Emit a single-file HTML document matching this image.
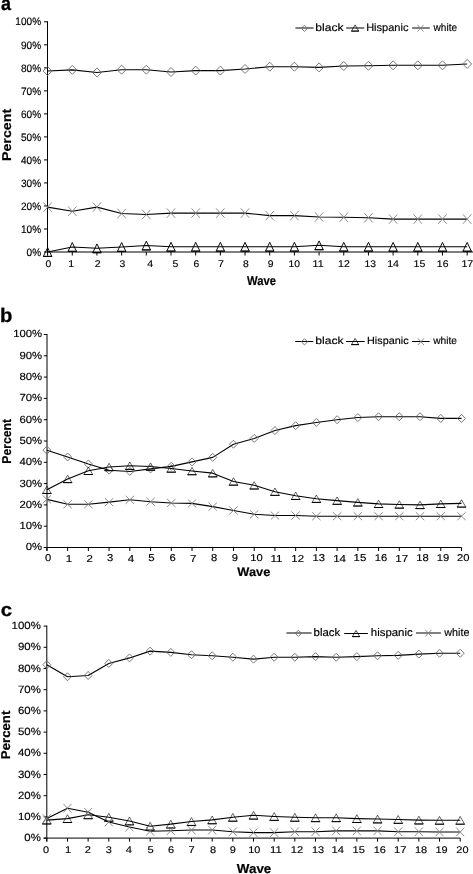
<!DOCTYPE html>
<html><head><meta charset="utf-8"><style>
html,body{margin:0;padding:0;background:#fff;}
body{width:473px;height:874px;overflow:hidden;}
svg{display:block;will-change:transform;}
text{stroke:#000;stroke-width:1.5px;text-rendering:geometricPrecision;font-family:"Liberation Sans",sans-serif;font-size:100px;}
</style></head><body>
<svg width="473" height="874" viewBox="0 0 473 874">
<rect width="473" height="874" fill="#fff"/>
<line x1="47.50" y1="21.30" x2="47.50" y2="255.50" stroke="#000" stroke-width="1"/>
<line x1="44.00" y1="252.00" x2="47.50" y2="252.00" stroke="#000" stroke-width="1"/>
<line x1="44.00" y1="228.98" x2="47.50" y2="228.98" stroke="#000" stroke-width="1"/>
<line x1="44.00" y1="205.96" x2="47.50" y2="205.96" stroke="#000" stroke-width="1"/>
<line x1="44.00" y1="182.94" x2="47.50" y2="182.94" stroke="#000" stroke-width="1"/>
<line x1="44.00" y1="159.92" x2="47.50" y2="159.92" stroke="#000" stroke-width="1"/>
<line x1="44.00" y1="136.90" x2="47.50" y2="136.90" stroke="#000" stroke-width="1"/>
<line x1="44.00" y1="113.88" x2="47.50" y2="113.88" stroke="#000" stroke-width="1"/>
<line x1="44.00" y1="90.86" x2="47.50" y2="90.86" stroke="#000" stroke-width="1"/>
<line x1="44.00" y1="67.84" x2="47.50" y2="67.84" stroke="#000" stroke-width="1"/>
<line x1="44.00" y1="44.82" x2="47.50" y2="44.82" stroke="#000" stroke-width="1"/>
<line x1="44.00" y1="21.80" x2="47.50" y2="21.80" stroke="#000" stroke-width="1"/>
<line x1="47.50" y1="252.00" x2="473.00" y2="252.00" stroke="#000" stroke-width="1"/>
<line x1="47.60" y1="252.00" x2="47.60" y2="255.50" stroke="#000" stroke-width="1"/>
<line x1="72.28" y1="252.00" x2="72.28" y2="255.50" stroke="#000" stroke-width="1"/>
<line x1="96.96" y1="252.00" x2="96.96" y2="255.50" stroke="#000" stroke-width="1"/>
<line x1="121.64" y1="252.00" x2="121.64" y2="255.50" stroke="#000" stroke-width="1"/>
<line x1="146.32" y1="252.00" x2="146.32" y2="255.50" stroke="#000" stroke-width="1"/>
<line x1="171.00" y1="252.00" x2="171.00" y2="255.50" stroke="#000" stroke-width="1"/>
<line x1="195.68" y1="252.00" x2="195.68" y2="255.50" stroke="#000" stroke-width="1"/>
<line x1="220.36" y1="252.00" x2="220.36" y2="255.50" stroke="#000" stroke-width="1"/>
<line x1="245.04" y1="252.00" x2="245.04" y2="255.50" stroke="#000" stroke-width="1"/>
<line x1="269.72" y1="252.00" x2="269.72" y2="255.50" stroke="#000" stroke-width="1"/>
<line x1="294.40" y1="252.00" x2="294.40" y2="255.50" stroke="#000" stroke-width="1"/>
<line x1="319.08" y1="252.00" x2="319.08" y2="255.50" stroke="#000" stroke-width="1"/>
<line x1="343.76" y1="252.00" x2="343.76" y2="255.50" stroke="#000" stroke-width="1"/>
<line x1="368.44" y1="252.00" x2="368.44" y2="255.50" stroke="#000" stroke-width="1"/>
<line x1="393.12" y1="252.00" x2="393.12" y2="255.50" stroke="#000" stroke-width="1"/>
<line x1="417.80" y1="252.00" x2="417.80" y2="255.50" stroke="#000" stroke-width="1"/>
<line x1="442.48" y1="252.00" x2="442.48" y2="255.50" stroke="#000" stroke-width="1"/>
<line x1="467.16" y1="252.00" x2="467.16" y2="255.50" stroke="#000" stroke-width="1"/>
<text transform="matrix(0.10090,0,0,0.10734,26.573,255.693)" font-weight="normal">0%</text>
<text transform="matrix(0.10090,0,0,0.10734,20.962,232.673)" font-weight="normal">10%</text>
<text transform="matrix(0.10090,0,0,0.10734,20.962,209.653)" font-weight="normal">20%</text>
<text transform="matrix(0.10090,0,0,0.10734,20.962,186.633)" font-weight="normal">30%</text>
<text transform="matrix(0.10090,0,0,0.10734,20.962,163.613)" font-weight="normal">40%</text>
<text transform="matrix(0.10090,0,0,0.10734,20.962,140.593)" font-weight="normal">50%</text>
<text transform="matrix(0.10090,0,0,0.10734,20.962,117.573)" font-weight="normal">60%</text>
<text transform="matrix(0.10090,0,0,0.10734,20.962,94.553)" font-weight="normal">70%</text>
<text transform="matrix(0.10090,0,0,0.10734,20.962,71.533)" font-weight="normal">80%</text>
<text transform="matrix(0.10090,0,0,0.10734,20.962,48.513)" font-weight="normal">90%</text>
<text transform="matrix(0.10090,0,0,0.10734,15.352,25.493)" font-weight="normal">100%</text>
<text transform="matrix(0.10373,0,0,0.09605,45.466,267.204)" font-weight="normal">0</text>
<text transform="matrix(0.10674,0,0,0.09884,68.288,267.300)" font-weight="normal">1</text>
<text transform="matrix(0.10521,0,0,0.09742,94.775,267.300)" font-weight="normal">2</text>
<text transform="matrix(0.10373,0,0,0.09605,119.547,267.204)" font-weight="normal">3</text>
<text transform="matrix(0.10674,0,0,0.09884,147.265,267.300)" font-weight="normal">4</text>
<text transform="matrix(0.10521,0,0,0.09742,172.386,267.203)" font-weight="normal">5</text>
<text transform="matrix(0.10373,0,0,0.09605,193.530,267.204)" font-weight="normal">6</text>
<text transform="matrix(0.10674,0,0,0.09884,217.977,267.300)" font-weight="normal">7</text>
<text transform="matrix(0.10373,0,0,0.09605,243.066,267.204)" font-weight="normal">8</text>
<text transform="matrix(0.10373,0,0,0.09605,267.816,267.204)" font-weight="normal">9</text>
<text transform="matrix(0.10373,0,0,0.09605,288.591,267.204)" font-weight="normal">10</text>
<text transform="matrix(0.10674,0,0,0.09884,312.616,267.300)" font-weight="normal">11</text>
<text transform="matrix(0.10521,0,0,0.09742,338.063,267.300)" font-weight="normal">12</text>
<text transform="matrix(0.10373,0,0,0.09605,364.567,267.204)" font-weight="normal">13</text>
<text transform="matrix(0.10674,0,0,0.09884,387.164,267.300)" font-weight="normal">14</text>
<text transform="matrix(0.10521,0,0,0.09742,413.571,267.203)" font-weight="normal">15</text>
<text transform="matrix(0.10373,0,0,0.09605,436.867,267.204)" font-weight="normal">16</text>
<text transform="matrix(0.10674,0,0,0.09884,461.426,267.300)" font-weight="normal">17</text>
<polyline points="47.60,71.06 72.28,69.91 96.96,72.44 121.64,69.68 146.32,69.68 171.00,71.98 195.68,70.60 220.36,70.60 245.04,68.99 269.72,66.69 294.40,66.69 319.08,67.38 343.76,66.00 368.44,65.77 393.12,65.31 417.80,65.31 442.48,65.31 467.16,63.93" fill="none" stroke="#000" stroke-width="1.1" stroke-linejoin="round"/>
<polyline points="47.60,252.00 72.28,246.94 96.96,248.32 121.64,246.94 146.32,245.55 171.00,246.71 195.68,246.71 220.36,246.71 245.04,246.71 269.72,246.71 294.40,246.71 319.08,245.32 343.76,246.71 368.44,246.71 393.12,246.82 417.80,246.82 442.48,246.82 467.16,246.82" fill="none" stroke="#000" stroke-width="1.1" stroke-linejoin="round"/>
<polyline points="47.60,207.11 72.28,211.25 96.96,207.11 121.64,213.56 146.32,214.48 171.00,213.10 195.68,213.10 220.36,213.10 245.04,213.10 269.72,215.63 294.40,215.63 319.08,217.01 343.76,217.24 368.44,217.70 393.12,219.08 417.80,219.08 442.48,219.08 467.16,219.08" fill="none" stroke="#000" stroke-width="1.1" stroke-linejoin="round"/>
<path d="M47.60,66.56L52.10,71.06L47.60,75.56L43.10,71.06Z" fill="none" stroke="#6a6a6a" stroke-width="0.9"/>
<path d="M72.28,65.41L76.78,69.91L72.28,74.41L67.78,69.91Z" fill="none" stroke="#6a6a6a" stroke-width="0.9"/>
<path d="M96.96,67.94L101.46,72.44L96.96,76.94L92.46,72.44Z" fill="none" stroke="#6a6a6a" stroke-width="0.9"/>
<path d="M121.64,65.18L126.14,69.68L121.64,74.18L117.14,69.68Z" fill="none" stroke="#6a6a6a" stroke-width="0.9"/>
<path d="M146.32,65.18L150.82,69.68L146.32,74.18L141.82,69.68Z" fill="none" stroke="#6a6a6a" stroke-width="0.9"/>
<path d="M171.00,67.48L175.50,71.98L171.00,76.48L166.50,71.98Z" fill="none" stroke="#6a6a6a" stroke-width="0.9"/>
<path d="M195.68,66.10L200.18,70.60L195.68,75.10L191.18,70.60Z" fill="none" stroke="#6a6a6a" stroke-width="0.9"/>
<path d="M220.36,66.10L224.86,70.60L220.36,75.10L215.86,70.60Z" fill="none" stroke="#6a6a6a" stroke-width="0.9"/>
<path d="M245.04,64.49L249.54,68.99L245.04,73.49L240.54,68.99Z" fill="none" stroke="#6a6a6a" stroke-width="0.9"/>
<path d="M269.72,62.19L274.22,66.69L269.72,71.19L265.22,66.69Z" fill="none" stroke="#6a6a6a" stroke-width="0.9"/>
<path d="M294.40,62.19L298.90,66.69L294.40,71.19L289.90,66.69Z" fill="none" stroke="#6a6a6a" stroke-width="0.9"/>
<path d="M319.08,62.88L323.58,67.38L319.08,71.88L314.58,67.38Z" fill="none" stroke="#6a6a6a" stroke-width="0.9"/>
<path d="M343.76,61.50L348.26,66.00L343.76,70.50L339.26,66.00Z" fill="none" stroke="#6a6a6a" stroke-width="0.9"/>
<path d="M368.44,61.27L372.94,65.77L368.44,70.27L363.94,65.77Z" fill="none" stroke="#6a6a6a" stroke-width="0.9"/>
<path d="M393.12,60.81L397.62,65.31L393.12,69.81L388.62,65.31Z" fill="none" stroke="#6a6a6a" stroke-width="0.9"/>
<path d="M417.80,60.81L422.30,65.31L417.80,69.81L413.30,65.31Z" fill="none" stroke="#6a6a6a" stroke-width="0.9"/>
<path d="M442.48,60.81L446.98,65.31L442.48,69.81L437.98,65.31Z" fill="none" stroke="#6a6a6a" stroke-width="0.9"/>
<path d="M467.16,59.43L471.66,63.93L467.16,68.43L462.66,63.93Z" fill="none" stroke="#6a6a6a" stroke-width="0.9"/>
<path d="M47.60,247.60L51.80,256.40L43.40,256.40Z" fill="none" stroke="#000" stroke-width="0.95" stroke-linejoin="miter"/>
<path d="M43.10,256.40H52.10" stroke="#000" stroke-width="1.0"/>
<path d="M72.28,242.54L76.48,251.34L68.08,251.34Z" fill="none" stroke="#000" stroke-width="0.95" stroke-linejoin="miter"/>
<path d="M67.78,251.34H76.78" stroke="#000" stroke-width="1.0"/>
<path d="M96.96,243.92L101.16,252.72L92.76,252.72Z" fill="none" stroke="#000" stroke-width="0.95" stroke-linejoin="miter"/>
<path d="M92.46,252.72H101.46" stroke="#000" stroke-width="1.0"/>
<path d="M121.64,242.54L125.84,251.34L117.44,251.34Z" fill="none" stroke="#000" stroke-width="0.95" stroke-linejoin="miter"/>
<path d="M117.14,251.34H126.14" stroke="#000" stroke-width="1.0"/>
<path d="M146.32,241.15L150.52,249.95L142.12,249.95Z" fill="none" stroke="#000" stroke-width="0.95" stroke-linejoin="miter"/>
<path d="M141.82,249.95H150.82" stroke="#000" stroke-width="1.0"/>
<path d="M171.00,242.31L175.20,251.11L166.80,251.11Z" fill="none" stroke="#000" stroke-width="0.95" stroke-linejoin="miter"/>
<path d="M166.50,251.11H175.50" stroke="#000" stroke-width="1.0"/>
<path d="M195.68,242.31L199.88,251.11L191.48,251.11Z" fill="none" stroke="#000" stroke-width="0.95" stroke-linejoin="miter"/>
<path d="M191.18,251.11H200.18" stroke="#000" stroke-width="1.0"/>
<path d="M220.36,242.31L224.56,251.11L216.16,251.11Z" fill="none" stroke="#000" stroke-width="0.95" stroke-linejoin="miter"/>
<path d="M215.86,251.11H224.86" stroke="#000" stroke-width="1.0"/>
<path d="M245.04,242.31L249.24,251.11L240.84,251.11Z" fill="none" stroke="#000" stroke-width="0.95" stroke-linejoin="miter"/>
<path d="M240.54,251.11H249.54" stroke="#000" stroke-width="1.0"/>
<path d="M269.72,242.31L273.92,251.11L265.52,251.11Z" fill="none" stroke="#000" stroke-width="0.95" stroke-linejoin="miter"/>
<path d="M265.22,251.11H274.22" stroke="#000" stroke-width="1.0"/>
<path d="M294.40,242.31L298.60,251.11L290.20,251.11Z" fill="none" stroke="#000" stroke-width="0.95" stroke-linejoin="miter"/>
<path d="M289.90,251.11H298.90" stroke="#000" stroke-width="1.0"/>
<path d="M319.08,240.92L323.28,249.72L314.88,249.72Z" fill="none" stroke="#000" stroke-width="0.95" stroke-linejoin="miter"/>
<path d="M314.58,249.72H323.58" stroke="#000" stroke-width="1.0"/>
<path d="M343.76,242.31L347.96,251.11L339.56,251.11Z" fill="none" stroke="#000" stroke-width="0.95" stroke-linejoin="miter"/>
<path d="M339.26,251.11H348.26" stroke="#000" stroke-width="1.0"/>
<path d="M368.44,242.31L372.64,251.11L364.24,251.11Z" fill="none" stroke="#000" stroke-width="0.95" stroke-linejoin="miter"/>
<path d="M363.94,251.11H372.94" stroke="#000" stroke-width="1.0"/>
<path d="M393.12,242.42L397.32,251.22L388.92,251.22Z" fill="none" stroke="#000" stroke-width="0.95" stroke-linejoin="miter"/>
<path d="M388.62,251.22H397.62" stroke="#000" stroke-width="1.0"/>
<path d="M417.80,242.42L422.00,251.22L413.60,251.22Z" fill="none" stroke="#000" stroke-width="0.95" stroke-linejoin="miter"/>
<path d="M413.30,251.22H422.30" stroke="#000" stroke-width="1.0"/>
<path d="M442.48,242.42L446.68,251.22L438.28,251.22Z" fill="none" stroke="#000" stroke-width="0.95" stroke-linejoin="miter"/>
<path d="M437.98,251.22H446.98" stroke="#000" stroke-width="1.0"/>
<path d="M467.16,242.42L471.36,251.22L462.96,251.22Z" fill="none" stroke="#000" stroke-width="0.95" stroke-linejoin="miter"/>
<path d="M462.66,251.22H471.66" stroke="#000" stroke-width="1.0"/>
<path d="M43.40,202.41L51.80,211.81M51.80,202.41L43.40,211.81" fill="none" stroke="#808080" stroke-width="0.9"/>
<path d="M68.08,206.55L76.48,215.95M76.48,206.55L68.08,215.95" fill="none" stroke="#808080" stroke-width="0.9"/>
<path d="M92.76,202.41L101.16,211.81M101.16,202.41L92.76,211.81" fill="none" stroke="#808080" stroke-width="0.9"/>
<path d="M117.44,208.86L125.84,218.26M125.84,208.86L117.44,218.26" fill="none" stroke="#808080" stroke-width="0.9"/>
<path d="M142.12,209.78L150.52,219.18M150.52,209.78L142.12,219.18" fill="none" stroke="#808080" stroke-width="0.9"/>
<path d="M166.80,208.40L175.20,217.80M175.20,208.40L166.80,217.80" fill="none" stroke="#808080" stroke-width="0.9"/>
<path d="M191.48,208.40L199.88,217.80M199.88,208.40L191.48,217.80" fill="none" stroke="#808080" stroke-width="0.9"/>
<path d="M216.16,208.40L224.56,217.80M224.56,208.40L216.16,217.80" fill="none" stroke="#808080" stroke-width="0.9"/>
<path d="M240.84,208.40L249.24,217.80M249.24,208.40L240.84,217.80" fill="none" stroke="#808080" stroke-width="0.9"/>
<path d="M265.52,210.93L273.92,220.33M273.92,210.93L265.52,220.33" fill="none" stroke="#808080" stroke-width="0.9"/>
<path d="M290.20,210.93L298.60,220.33M298.60,210.93L290.20,220.33" fill="none" stroke="#808080" stroke-width="0.9"/>
<path d="M314.88,212.31L323.28,221.71M323.28,212.31L314.88,221.71" fill="none" stroke="#808080" stroke-width="0.9"/>
<path d="M339.56,212.54L347.96,221.94M347.96,212.54L339.56,221.94" fill="none" stroke="#808080" stroke-width="0.9"/>
<path d="M364.24,213.00L372.64,222.40M372.64,213.00L364.24,222.40" fill="none" stroke="#808080" stroke-width="0.9"/>
<path d="M388.92,214.38L397.32,223.78M397.32,214.38L388.92,223.78" fill="none" stroke="#808080" stroke-width="0.9"/>
<path d="M413.60,214.38L422.00,223.78M422.00,214.38L413.60,223.78" fill="none" stroke="#808080" stroke-width="0.9"/>
<path d="M438.28,214.38L446.68,223.78M446.68,214.38L438.28,223.78" fill="none" stroke="#808080" stroke-width="0.9"/>
<path d="M462.96,214.38L471.36,223.78M471.36,214.38L462.96,223.78" fill="none" stroke="#808080" stroke-width="0.9"/>
<line x1="47.00" y1="334.00" x2="47.00" y2="551.00" stroke="#000" stroke-width="1"/>
<line x1="43.80" y1="547.50" x2="47.00" y2="547.50" stroke="#000" stroke-width="1"/>
<line x1="43.80" y1="526.20" x2="47.00" y2="526.20" stroke="#000" stroke-width="1"/>
<line x1="43.80" y1="504.90" x2="47.00" y2="504.90" stroke="#000" stroke-width="1"/>
<line x1="43.80" y1="483.60" x2="47.00" y2="483.60" stroke="#000" stroke-width="1"/>
<line x1="43.80" y1="462.30" x2="47.00" y2="462.30" stroke="#000" stroke-width="1"/>
<line x1="43.80" y1="441.00" x2="47.00" y2="441.00" stroke="#000" stroke-width="1"/>
<line x1="43.80" y1="419.70" x2="47.00" y2="419.70" stroke="#000" stroke-width="1"/>
<line x1="43.80" y1="398.40" x2="47.00" y2="398.40" stroke="#000" stroke-width="1"/>
<line x1="43.80" y1="377.10" x2="47.00" y2="377.10" stroke="#000" stroke-width="1"/>
<line x1="43.80" y1="355.80" x2="47.00" y2="355.80" stroke="#000" stroke-width="1"/>
<line x1="43.80" y1="334.50" x2="47.00" y2="334.50" stroke="#000" stroke-width="1"/>
<line x1="43.80" y1="547.50" x2="461.60" y2="547.50" stroke="#000" stroke-width="1"/>
<line x1="46.90" y1="547.50" x2="46.90" y2="551.00" stroke="#000" stroke-width="1"/>
<line x1="67.63" y1="547.50" x2="67.63" y2="551.00" stroke="#000" stroke-width="1"/>
<line x1="88.36" y1="547.50" x2="88.36" y2="551.00" stroke="#000" stroke-width="1"/>
<line x1="109.09" y1="547.50" x2="109.09" y2="551.00" stroke="#000" stroke-width="1"/>
<line x1="129.82" y1="547.50" x2="129.82" y2="551.00" stroke="#000" stroke-width="1"/>
<line x1="150.55" y1="547.50" x2="150.55" y2="551.00" stroke="#000" stroke-width="1"/>
<line x1="171.28" y1="547.50" x2="171.28" y2="551.00" stroke="#000" stroke-width="1"/>
<line x1="192.01" y1="547.50" x2="192.01" y2="551.00" stroke="#000" stroke-width="1"/>
<line x1="212.74" y1="547.50" x2="212.74" y2="551.00" stroke="#000" stroke-width="1"/>
<line x1="233.47" y1="547.50" x2="233.47" y2="551.00" stroke="#000" stroke-width="1"/>
<line x1="254.20" y1="547.50" x2="254.20" y2="551.00" stroke="#000" stroke-width="1"/>
<line x1="274.93" y1="547.50" x2="274.93" y2="551.00" stroke="#000" stroke-width="1"/>
<line x1="295.66" y1="547.50" x2="295.66" y2="551.00" stroke="#000" stroke-width="1"/>
<line x1="316.39" y1="547.50" x2="316.39" y2="551.00" stroke="#000" stroke-width="1"/>
<line x1="337.12" y1="547.50" x2="337.12" y2="551.00" stroke="#000" stroke-width="1"/>
<line x1="357.85" y1="547.50" x2="357.85" y2="551.00" stroke="#000" stroke-width="1"/>
<line x1="378.58" y1="547.50" x2="378.58" y2="551.00" stroke="#000" stroke-width="1"/>
<line x1="399.31" y1="547.50" x2="399.31" y2="551.00" stroke="#000" stroke-width="1"/>
<line x1="420.04" y1="547.50" x2="420.04" y2="551.00" stroke="#000" stroke-width="1"/>
<line x1="440.77" y1="547.50" x2="440.77" y2="551.00" stroke="#000" stroke-width="1"/>
<line x1="461.50" y1="547.50" x2="461.50" y2="551.00" stroke="#000" stroke-width="1"/>
<text transform="matrix(0.11342,0,0,0.10311,25.758,550.447)" font-weight="normal">0%</text>
<text transform="matrix(0.11342,0,0,0.10311,19.452,529.147)" font-weight="normal">10%</text>
<text transform="matrix(0.11342,0,0,0.10311,19.452,507.847)" font-weight="normal">20%</text>
<text transform="matrix(0.11342,0,0,0.10311,19.452,486.547)" font-weight="normal">30%</text>
<text transform="matrix(0.11342,0,0,0.10311,19.452,465.247)" font-weight="normal">40%</text>
<text transform="matrix(0.11342,0,0,0.10311,19.452,443.947)" font-weight="normal">50%</text>
<text transform="matrix(0.11342,0,0,0.10311,19.452,422.647)" font-weight="normal">60%</text>
<text transform="matrix(0.11342,0,0,0.10311,19.452,401.347)" font-weight="normal">70%</text>
<text transform="matrix(0.11342,0,0,0.10311,19.452,380.047)" font-weight="normal">80%</text>
<text transform="matrix(0.11342,0,0,0.10311,19.452,358.747)" font-weight="normal">90%</text>
<text transform="matrix(0.11342,0,0,0.10311,13.146,337.447)" font-weight="normal">100%</text>
<text transform="matrix(0.11271,0,0,0.09887,45.017,561.401)" font-weight="normal">0</text>
<text transform="matrix(0.11599,0,0,0.10174,65.669,561.500)" font-weight="normal">1</text>
<text transform="matrix(0.11433,0,0,0.10029,86.472,561.500)" font-weight="normal">2</text>
<text transform="matrix(0.11271,0,0,0.09887,106.950,561.401)" font-weight="normal">3</text>
<text transform="matrix(0.11599,0,0,0.10174,127.660,561.500)" font-weight="normal">4</text>
<text transform="matrix(0.11433,0,0,0.10029,148.233,561.400)" font-weight="normal">5</text>
<text transform="matrix(0.11271,0,0,0.09887,169.427,561.401)" font-weight="normal">6</text>
<text transform="matrix(0.11599,0,0,0.10174,190.120,561.500)" font-weight="normal">7</text>
<text transform="matrix(0.11271,0,0,0.09887,211.067,561.401)" font-weight="normal">8</text>
<text transform="matrix(0.11271,0,0,0.09887,231.817,561.401)" font-weight="normal">9</text>
<text transform="matrix(0.11271,0,0,0.09887,250.325,561.401)" font-weight="normal">10</text>
<text transform="matrix(0.11599,0,0,0.10174,270.524,561.500)" font-weight="normal">11</text>
<text transform="matrix(0.11433,0,0,0.10029,291.345,561.500)" font-weight="normal">12</text>
<text transform="matrix(0.11271,0,0,0.09887,312.553,561.401)" font-weight="normal">13</text>
<text transform="matrix(0.11599,0,0,0.10174,333.128,561.500)" font-weight="normal">14</text>
<text transform="matrix(0.11433,0,0,0.10029,353.549,561.400)" font-weight="normal">15</text>
<text transform="matrix(0.11271,0,0,0.09887,374.853,561.401)" font-weight="normal">16</text>
<text transform="matrix(0.11599,0,0,0.10174,395.300,561.500)" font-weight="normal">17</text>
<text transform="matrix(0.11271,0,0,0.09887,416.347,561.401)" font-weight="normal">18</text>
<text transform="matrix(0.11271,0,0,0.09887,436.670,561.401)" font-weight="normal">19</text>
<text transform="matrix(0.11271,0,0,0.09887,456.921,561.401)" font-weight="normal">20</text>
<polyline points="46.90,450.16 67.63,456.98 88.36,464.00 109.09,470.18 129.82,471.46 150.55,468.90 171.28,466.35 192.01,461.87 212.74,457.40 233.47,444.19 254.20,438.44 274.93,430.56 295.66,425.66 316.39,422.47 337.12,419.70 357.85,417.57 378.58,416.72 399.31,416.72 420.04,416.72 440.77,418.42 461.50,418.42" fill="none" stroke="#000" stroke-width="1.1" stroke-linejoin="round"/>
<polyline points="46.90,489.78 67.63,478.91 88.36,470.82 109.09,466.99 129.82,465.71 150.55,466.56 171.28,468.48 192.01,471.03 212.74,473.16 233.47,481.47 254.20,485.30 274.93,491.69 295.66,495.74 316.39,498.72 337.12,500.64 357.85,502.34 378.58,503.83 399.31,504.47 420.04,504.90 440.77,503.83 461.50,503.41" fill="none" stroke="#000" stroke-width="1.1" stroke-linejoin="round"/>
<polyline points="46.90,499.36 67.63,504.26 88.36,504.26 109.09,502.13 129.82,499.79 150.55,501.70 171.28,502.98 192.01,503.41 212.74,506.60 233.47,510.44 254.20,514.27 274.93,515.55 295.66,515.55 316.39,516.19 337.12,516.19 357.85,516.19 378.58,516.19 399.31,516.19 420.04,516.19 440.77,516.19 461.50,516.19" fill="none" stroke="#000" stroke-width="1.1" stroke-linejoin="round"/>
<path d="M46.90,446.16L50.90,450.16L46.90,454.16L42.90,450.16Z" fill="none" stroke="#6a6a6a" stroke-width="0.9"/>
<path d="M67.63,452.98L71.63,456.98L67.63,460.98L63.63,456.98Z" fill="none" stroke="#6a6a6a" stroke-width="0.9"/>
<path d="M88.36,460.00L92.36,464.00L88.36,468.00L84.36,464.00Z" fill="none" stroke="#6a6a6a" stroke-width="0.9"/>
<path d="M109.09,466.18L113.09,470.18L109.09,474.18L105.09,470.18Z" fill="none" stroke="#6a6a6a" stroke-width="0.9"/>
<path d="M129.82,467.46L133.82,471.46L129.82,475.46L125.82,471.46Z" fill="none" stroke="#6a6a6a" stroke-width="0.9"/>
<path d="M150.55,464.90L154.55,468.90L150.55,472.90L146.55,468.90Z" fill="none" stroke="#6a6a6a" stroke-width="0.9"/>
<path d="M171.28,462.35L175.28,466.35L171.28,470.35L167.28,466.35Z" fill="none" stroke="#6a6a6a" stroke-width="0.9"/>
<path d="M192.01,457.87L196.01,461.87L192.01,465.87L188.01,461.87Z" fill="none" stroke="#6a6a6a" stroke-width="0.9"/>
<path d="M212.74,453.40L216.74,457.40L212.74,461.40L208.74,457.40Z" fill="none" stroke="#6a6a6a" stroke-width="0.9"/>
<path d="M233.47,440.19L237.47,444.19L233.47,448.19L229.47,444.19Z" fill="none" stroke="#6a6a6a" stroke-width="0.9"/>
<path d="M254.20,434.44L258.20,438.44L254.20,442.44L250.20,438.44Z" fill="none" stroke="#6a6a6a" stroke-width="0.9"/>
<path d="M274.93,426.56L278.93,430.56L274.93,434.56L270.93,430.56Z" fill="none" stroke="#6a6a6a" stroke-width="0.9"/>
<path d="M295.66,421.66L299.66,425.66L295.66,429.66L291.66,425.66Z" fill="none" stroke="#6a6a6a" stroke-width="0.9"/>
<path d="M316.39,418.47L320.39,422.47L316.39,426.47L312.39,422.47Z" fill="none" stroke="#6a6a6a" stroke-width="0.9"/>
<path d="M337.12,415.70L341.12,419.70L337.12,423.70L333.12,419.70Z" fill="none" stroke="#6a6a6a" stroke-width="0.9"/>
<path d="M357.85,413.57L361.85,417.57L357.85,421.57L353.85,417.57Z" fill="none" stroke="#6a6a6a" stroke-width="0.9"/>
<path d="M378.58,412.72L382.58,416.72L378.58,420.72L374.58,416.72Z" fill="none" stroke="#6a6a6a" stroke-width="0.9"/>
<path d="M399.31,412.72L403.31,416.72L399.31,420.72L395.31,416.72Z" fill="none" stroke="#6a6a6a" stroke-width="0.9"/>
<path d="M420.04,412.72L424.04,416.72L420.04,420.72L416.04,416.72Z" fill="none" stroke="#6a6a6a" stroke-width="0.9"/>
<path d="M440.77,414.42L444.77,418.42L440.77,422.42L436.77,418.42Z" fill="none" stroke="#6a6a6a" stroke-width="0.9"/>
<path d="M461.50,414.42L465.50,418.42L461.50,422.42L457.50,418.42Z" fill="none" stroke="#6a6a6a" stroke-width="0.9"/>
<path d="M46.90,486.08L51.20,493.48L42.60,493.48Z" fill="none" stroke="#000" stroke-width="0.6" stroke-linejoin="miter"/>
<path d="M42.30,493.48H51.50" stroke="#000" stroke-width="1.0"/>
<path d="M67.63,475.21L71.93,482.61L63.33,482.61Z" fill="none" stroke="#000" stroke-width="0.6" stroke-linejoin="miter"/>
<path d="M63.03,482.61H72.23" stroke="#000" stroke-width="1.0"/>
<path d="M88.36,467.12L92.66,474.52L84.06,474.52Z" fill="none" stroke="#000" stroke-width="0.6" stroke-linejoin="miter"/>
<path d="M83.76,474.52H92.96" stroke="#000" stroke-width="1.0"/>
<path d="M109.09,463.29L113.39,470.69L104.79,470.69Z" fill="none" stroke="#000" stroke-width="0.6" stroke-linejoin="miter"/>
<path d="M104.49,470.69H113.69" stroke="#000" stroke-width="1.0"/>
<path d="M129.82,462.01L134.12,469.41L125.52,469.41Z" fill="none" stroke="#000" stroke-width="0.6" stroke-linejoin="miter"/>
<path d="M125.22,469.41H134.42" stroke="#000" stroke-width="1.0"/>
<path d="M150.55,462.86L154.85,470.26L146.25,470.26Z" fill="none" stroke="#000" stroke-width="0.6" stroke-linejoin="miter"/>
<path d="M145.95,470.26H155.15" stroke="#000" stroke-width="1.0"/>
<path d="M171.28,464.78L175.58,472.18L166.98,472.18Z" fill="none" stroke="#000" stroke-width="0.6" stroke-linejoin="miter"/>
<path d="M166.68,472.18H175.88" stroke="#000" stroke-width="1.0"/>
<path d="M192.01,467.33L196.31,474.73L187.71,474.73Z" fill="none" stroke="#000" stroke-width="0.6" stroke-linejoin="miter"/>
<path d="M187.41,474.73H196.61" stroke="#000" stroke-width="1.0"/>
<path d="M212.74,469.46L217.04,476.86L208.44,476.86Z" fill="none" stroke="#000" stroke-width="0.6" stroke-linejoin="miter"/>
<path d="M208.14,476.86H217.34" stroke="#000" stroke-width="1.0"/>
<path d="M233.47,477.77L237.77,485.17L229.17,485.17Z" fill="none" stroke="#000" stroke-width="0.6" stroke-linejoin="miter"/>
<path d="M228.87,485.17H238.07" stroke="#000" stroke-width="1.0"/>
<path d="M254.20,481.60L258.50,489.00L249.90,489.00Z" fill="none" stroke="#000" stroke-width="0.6" stroke-linejoin="miter"/>
<path d="M249.60,489.00H258.80" stroke="#000" stroke-width="1.0"/>
<path d="M274.93,487.99L279.23,495.39L270.63,495.39Z" fill="none" stroke="#000" stroke-width="0.6" stroke-linejoin="miter"/>
<path d="M270.33,495.39H279.53" stroke="#000" stroke-width="1.0"/>
<path d="M295.66,492.04L299.96,499.44L291.36,499.44Z" fill="none" stroke="#000" stroke-width="0.6" stroke-linejoin="miter"/>
<path d="M291.06,499.44H300.26" stroke="#000" stroke-width="1.0"/>
<path d="M316.39,495.02L320.69,502.42L312.09,502.42Z" fill="none" stroke="#000" stroke-width="0.6" stroke-linejoin="miter"/>
<path d="M311.79,502.42H320.99" stroke="#000" stroke-width="1.0"/>
<path d="M337.12,496.94L341.42,504.34L332.82,504.34Z" fill="none" stroke="#000" stroke-width="0.6" stroke-linejoin="miter"/>
<path d="M332.52,504.34H341.72" stroke="#000" stroke-width="1.0"/>
<path d="M357.85,498.64L362.15,506.04L353.55,506.04Z" fill="none" stroke="#000" stroke-width="0.6" stroke-linejoin="miter"/>
<path d="M353.25,506.04H362.45" stroke="#000" stroke-width="1.0"/>
<path d="M378.58,500.13L382.88,507.53L374.28,507.53Z" fill="none" stroke="#000" stroke-width="0.6" stroke-linejoin="miter"/>
<path d="M373.98,507.53H383.18" stroke="#000" stroke-width="1.0"/>
<path d="M399.31,500.77L403.61,508.17L395.01,508.17Z" fill="none" stroke="#000" stroke-width="0.6" stroke-linejoin="miter"/>
<path d="M394.71,508.17H403.91" stroke="#000" stroke-width="1.0"/>
<path d="M420.04,501.20L424.34,508.60L415.74,508.60Z" fill="none" stroke="#000" stroke-width="0.6" stroke-linejoin="miter"/>
<path d="M415.44,508.60H424.64" stroke="#000" stroke-width="1.0"/>
<path d="M440.77,500.13L445.07,507.53L436.47,507.53Z" fill="none" stroke="#000" stroke-width="0.6" stroke-linejoin="miter"/>
<path d="M436.17,507.53H445.37" stroke="#000" stroke-width="1.0"/>
<path d="M461.50,499.71L465.80,507.11L457.20,507.11Z" fill="none" stroke="#000" stroke-width="0.6" stroke-linejoin="miter"/>
<path d="M456.90,507.11H466.10" stroke="#000" stroke-width="1.0"/>
<path d="M42.70,495.36L51.10,503.36M51.10,495.36L42.70,503.36" fill="none" stroke="#808080" stroke-width="0.9"/>
<path d="M63.43,500.26L71.83,508.26M71.83,500.26L63.43,508.26" fill="none" stroke="#808080" stroke-width="0.9"/>
<path d="M84.16,500.26L92.56,508.26M92.56,500.26L84.16,508.26" fill="none" stroke="#808080" stroke-width="0.9"/>
<path d="M104.89,498.13L113.29,506.13M113.29,498.13L104.89,506.13" fill="none" stroke="#808080" stroke-width="0.9"/>
<path d="M125.62,495.79L134.02,503.79M134.02,495.79L125.62,503.79" fill="none" stroke="#808080" stroke-width="0.9"/>
<path d="M146.35,497.70L154.75,505.70M154.75,497.70L146.35,505.70" fill="none" stroke="#808080" stroke-width="0.9"/>
<path d="M167.08,498.98L175.48,506.98M175.48,498.98L167.08,506.98" fill="none" stroke="#808080" stroke-width="0.9"/>
<path d="M187.81,499.41L196.21,507.41M196.21,499.41L187.81,507.41" fill="none" stroke="#808080" stroke-width="0.9"/>
<path d="M208.54,502.60L216.94,510.60M216.94,502.60L208.54,510.60" fill="none" stroke="#808080" stroke-width="0.9"/>
<path d="M229.27,506.44L237.67,514.44M237.67,506.44L229.27,514.44" fill="none" stroke="#808080" stroke-width="0.9"/>
<path d="M250.00,510.27L258.40,518.27M258.40,510.27L250.00,518.27" fill="none" stroke="#808080" stroke-width="0.9"/>
<path d="M270.73,511.55L279.13,519.55M279.13,511.55L270.73,519.55" fill="none" stroke="#808080" stroke-width="0.9"/>
<path d="M291.46,511.55L299.86,519.55M299.86,511.55L291.46,519.55" fill="none" stroke="#808080" stroke-width="0.9"/>
<path d="M312.19,512.19L320.59,520.19M320.59,512.19L312.19,520.19" fill="none" stroke="#808080" stroke-width="0.9"/>
<path d="M332.92,512.19L341.32,520.19M341.32,512.19L332.92,520.19" fill="none" stroke="#808080" stroke-width="0.9"/>
<path d="M353.65,512.19L362.05,520.19M362.05,512.19L353.65,520.19" fill="none" stroke="#808080" stroke-width="0.9"/>
<path d="M374.38,512.19L382.78,520.19M382.78,512.19L374.38,520.19" fill="none" stroke="#808080" stroke-width="0.9"/>
<path d="M395.11,512.19L403.51,520.19M403.51,512.19L395.11,520.19" fill="none" stroke="#808080" stroke-width="0.9"/>
<path d="M415.84,512.19L424.24,520.19M424.24,512.19L415.84,520.19" fill="none" stroke="#808080" stroke-width="0.9"/>
<path d="M436.57,512.19L444.97,520.19M444.97,512.19L436.57,520.19" fill="none" stroke="#808080" stroke-width="0.9"/>
<path d="M457.30,512.19L465.70,520.19M465.70,512.19L457.30,520.19" fill="none" stroke="#808080" stroke-width="0.9"/>
<line x1="46.80" y1="625.60" x2="46.80" y2="841.60" stroke="#000" stroke-width="1"/>
<line x1="43.60" y1="838.10" x2="46.80" y2="838.10" stroke="#000" stroke-width="1"/>
<line x1="43.60" y1="816.90" x2="46.80" y2="816.90" stroke="#000" stroke-width="1"/>
<line x1="43.60" y1="795.70" x2="46.80" y2="795.70" stroke="#000" stroke-width="1"/>
<line x1="43.60" y1="774.50" x2="46.80" y2="774.50" stroke="#000" stroke-width="1"/>
<line x1="43.60" y1="753.30" x2="46.80" y2="753.30" stroke="#000" stroke-width="1"/>
<line x1="43.60" y1="732.10" x2="46.80" y2="732.10" stroke="#000" stroke-width="1"/>
<line x1="43.60" y1="710.90" x2="46.80" y2="710.90" stroke="#000" stroke-width="1"/>
<line x1="43.60" y1="689.70" x2="46.80" y2="689.70" stroke="#000" stroke-width="1"/>
<line x1="43.60" y1="668.50" x2="46.80" y2="668.50" stroke="#000" stroke-width="1"/>
<line x1="43.60" y1="647.30" x2="46.80" y2="647.30" stroke="#000" stroke-width="1"/>
<line x1="43.60" y1="626.10" x2="46.80" y2="626.10" stroke="#000" stroke-width="1"/>
<line x1="43.60" y1="838.10" x2="460.20" y2="838.10" stroke="#000" stroke-width="1"/>
<line x1="46.80" y1="838.10" x2="46.80" y2="841.60" stroke="#000" stroke-width="1"/>
<line x1="67.47" y1="838.10" x2="67.47" y2="841.60" stroke="#000" stroke-width="1"/>
<line x1="88.14" y1="838.10" x2="88.14" y2="841.60" stroke="#000" stroke-width="1"/>
<line x1="108.81" y1="838.10" x2="108.81" y2="841.60" stroke="#000" stroke-width="1"/>
<line x1="129.48" y1="838.10" x2="129.48" y2="841.60" stroke="#000" stroke-width="1"/>
<line x1="150.15" y1="838.10" x2="150.15" y2="841.60" stroke="#000" stroke-width="1"/>
<line x1="170.82" y1="838.10" x2="170.82" y2="841.60" stroke="#000" stroke-width="1"/>
<line x1="191.49" y1="838.10" x2="191.49" y2="841.60" stroke="#000" stroke-width="1"/>
<line x1="212.16" y1="838.10" x2="212.16" y2="841.60" stroke="#000" stroke-width="1"/>
<line x1="232.83" y1="838.10" x2="232.83" y2="841.60" stroke="#000" stroke-width="1"/>
<line x1="253.50" y1="838.10" x2="253.50" y2="841.60" stroke="#000" stroke-width="1"/>
<line x1="274.17" y1="838.10" x2="274.17" y2="841.60" stroke="#000" stroke-width="1"/>
<line x1="294.84" y1="838.10" x2="294.84" y2="841.60" stroke="#000" stroke-width="1"/>
<line x1="315.51" y1="838.10" x2="315.51" y2="841.60" stroke="#000" stroke-width="1"/>
<line x1="336.18" y1="838.10" x2="336.18" y2="841.60" stroke="#000" stroke-width="1"/>
<line x1="356.85" y1="838.10" x2="356.85" y2="841.60" stroke="#000" stroke-width="1"/>
<line x1="377.52" y1="838.10" x2="377.52" y2="841.60" stroke="#000" stroke-width="1"/>
<line x1="398.19" y1="838.10" x2="398.19" y2="841.60" stroke="#000" stroke-width="1"/>
<line x1="418.86" y1="838.10" x2="418.86" y2="841.60" stroke="#000" stroke-width="1"/>
<line x1="439.53" y1="838.10" x2="439.53" y2="841.60" stroke="#000" stroke-width="1"/>
<line x1="460.20" y1="838.10" x2="460.20" y2="841.60" stroke="#000" stroke-width="1"/>
<text transform="matrix(0.11441,0,0,0.10593,24.269,841.144)" font-weight="normal">0%</text>
<text transform="matrix(0.11441,0,0,0.10593,17.908,819.944)" font-weight="normal">10%</text>
<text transform="matrix(0.11441,0,0,0.10593,17.908,798.744)" font-weight="normal">20%</text>
<text transform="matrix(0.11441,0,0,0.10593,17.908,777.544)" font-weight="normal">30%</text>
<text transform="matrix(0.11441,0,0,0.10593,17.908,756.344)" font-weight="normal">40%</text>
<text transform="matrix(0.11441,0,0,0.10593,17.908,735.144)" font-weight="normal">50%</text>
<text transform="matrix(0.11441,0,0,0.10593,17.908,713.944)" font-weight="normal">60%</text>
<text transform="matrix(0.11441,0,0,0.10593,17.908,692.744)" font-weight="normal">70%</text>
<text transform="matrix(0.11441,0,0,0.10593,17.908,671.544)" font-weight="normal">80%</text>
<text transform="matrix(0.11441,0,0,0.10593,17.908,650.344)" font-weight="normal">90%</text>
<text transform="matrix(0.11441,0,0,0.10593,11.547,629.144)" font-weight="normal">100%</text>
<text transform="matrix(0.10949,0,0,0.09605,43.056,853.254)" font-weight="normal">0</text>
<text transform="matrix(0.11267,0,0,0.09884,64.916,853.350)" font-weight="normal">1</text>
<text transform="matrix(0.11106,0,0,0.09742,84.813,853.350)" font-weight="normal">2</text>
<text transform="matrix(0.10949,0,0,0.09605,105.689,853.254)" font-weight="normal">3</text>
<text transform="matrix(0.11267,0,0,0.09884,125.701,853.350)" font-weight="normal">4</text>
<text transform="matrix(0.11106,0,0,0.09742,147.574,853.253)" font-weight="normal">5</text>
<text transform="matrix(0.10949,0,0,0.09605,168.018,853.254)" font-weight="normal">6</text>
<text transform="matrix(0.11267,0,0,0.09884,188.562,853.350)" font-weight="normal">7</text>
<text transform="matrix(0.10949,0,0,0.09605,209.906,853.254)" font-weight="normal">8</text>
<text transform="matrix(0.10949,0,0,0.09605,229.856,853.254)" font-weight="normal">9</text>
<text transform="matrix(0.10949,0,0,0.09605,248.210,853.254)" font-weight="normal">10</text>
<text transform="matrix(0.11267,0,0,0.09884,270.100,853.350)" font-weight="normal">11</text>
<text transform="matrix(0.11106,0,0,0.09742,290.781,853.350)" font-weight="normal">12</text>
<text transform="matrix(0.10949,0,0,0.09605,311.987,853.254)" font-weight="normal">13</text>
<text transform="matrix(0.11267,0,0,0.09884,331.571,853.350)" font-weight="normal">14</text>
<text transform="matrix(0.11106,0,0,0.09742,352.486,853.253)" font-weight="normal">15</text>
<text transform="matrix(0.10949,0,0,0.09605,373.737,853.254)" font-weight="normal">16</text>
<text transform="matrix(0.11267,0,0,0.09884,393.889,853.350)" font-weight="normal">17</text>
<text transform="matrix(0.10949,0,0,0.09605,414.932,853.254)" font-weight="normal">18</text>
<text transform="matrix(0.10949,0,0,0.09605,435.454,853.254)" font-weight="normal">19</text>
<text transform="matrix(0.10949,0,0,0.09605,456.352,853.254)" font-weight="normal">20</text>
<polyline points="46.80,664.68 67.47,676.77 88.14,675.50 108.81,663.41 129.48,657.90 150.15,651.12 170.82,652.39 191.49,654.72 212.16,655.78 232.83,657.26 253.50,659.17 274.17,657.26 294.84,657.26 315.51,656.63 336.18,657.26 356.85,656.63 377.52,655.78 398.19,655.36 418.86,654.08 439.53,653.24 460.20,653.24" fill="none" stroke="#000" stroke-width="1.1" stroke-linejoin="round"/>
<polyline points="46.80,820.08 67.47,818.60 88.14,814.78 108.81,817.32 129.48,820.93 150.15,826.23 170.82,824.11 191.49,821.56 212.16,819.87 232.83,817.32 253.50,815.20 274.17,816.48 294.84,817.32 315.51,817.75 336.18,817.75 356.85,818.60 377.52,819.02 398.19,819.44 418.86,820.08 439.53,820.29 460.20,820.29" fill="none" stroke="#000" stroke-width="1.1" stroke-linejoin="round"/>
<polyline points="46.80,818.60 67.47,808.21 88.14,812.24 108.81,821.99 129.48,827.08 150.15,831.32 170.82,830.68 191.49,830.04 212.16,830.04 232.83,831.74 253.50,832.59 274.17,832.59 294.84,831.74 315.51,831.74 336.18,830.89 356.85,830.89 377.52,830.89 398.19,831.74 418.86,831.74 439.53,831.95 460.20,831.95" fill="none" stroke="#000" stroke-width="1.1" stroke-linejoin="round"/>
<path d="M46.80,660.68L50.80,664.68L46.80,668.68L42.80,664.68Z" fill="none" stroke="#6a6a6a" stroke-width="0.9"/>
<path d="M67.47,672.77L71.47,676.77L67.47,680.77L63.47,676.77Z" fill="none" stroke="#6a6a6a" stroke-width="0.9"/>
<path d="M88.14,671.50L92.14,675.50L88.14,679.50L84.14,675.50Z" fill="none" stroke="#6a6a6a" stroke-width="0.9"/>
<path d="M108.81,659.41L112.81,663.41L108.81,667.41L104.81,663.41Z" fill="none" stroke="#6a6a6a" stroke-width="0.9"/>
<path d="M129.48,653.90L133.48,657.90L129.48,661.90L125.48,657.90Z" fill="none" stroke="#6a6a6a" stroke-width="0.9"/>
<path d="M150.15,647.12L154.15,651.12L150.15,655.12L146.15,651.12Z" fill="none" stroke="#6a6a6a" stroke-width="0.9"/>
<path d="M170.82,648.39L174.82,652.39L170.82,656.39L166.82,652.39Z" fill="none" stroke="#6a6a6a" stroke-width="0.9"/>
<path d="M191.49,650.72L195.49,654.72L191.49,658.72L187.49,654.72Z" fill="none" stroke="#6a6a6a" stroke-width="0.9"/>
<path d="M212.16,651.78L216.16,655.78L212.16,659.78L208.16,655.78Z" fill="none" stroke="#6a6a6a" stroke-width="0.9"/>
<path d="M232.83,653.26L236.83,657.26L232.83,661.26L228.83,657.26Z" fill="none" stroke="#6a6a6a" stroke-width="0.9"/>
<path d="M253.50,655.17L257.50,659.17L253.50,663.17L249.50,659.17Z" fill="none" stroke="#6a6a6a" stroke-width="0.9"/>
<path d="M274.17,653.26L278.17,657.26L274.17,661.26L270.17,657.26Z" fill="none" stroke="#6a6a6a" stroke-width="0.9"/>
<path d="M294.84,653.26L298.84,657.26L294.84,661.26L290.84,657.26Z" fill="none" stroke="#6a6a6a" stroke-width="0.9"/>
<path d="M315.51,652.63L319.51,656.63L315.51,660.63L311.51,656.63Z" fill="none" stroke="#6a6a6a" stroke-width="0.9"/>
<path d="M336.18,653.26L340.18,657.26L336.18,661.26L332.18,657.26Z" fill="none" stroke="#6a6a6a" stroke-width="0.9"/>
<path d="M356.85,652.63L360.85,656.63L356.85,660.63L352.85,656.63Z" fill="none" stroke="#6a6a6a" stroke-width="0.9"/>
<path d="M377.52,651.78L381.52,655.78L377.52,659.78L373.52,655.78Z" fill="none" stroke="#6a6a6a" stroke-width="0.9"/>
<path d="M398.19,651.36L402.19,655.36L398.19,659.36L394.19,655.36Z" fill="none" stroke="#6a6a6a" stroke-width="0.9"/>
<path d="M418.86,650.08L422.86,654.08L418.86,658.08L414.86,654.08Z" fill="none" stroke="#6a6a6a" stroke-width="0.9"/>
<path d="M439.53,649.24L443.53,653.24L439.53,657.24L435.53,653.24Z" fill="none" stroke="#6a6a6a" stroke-width="0.9"/>
<path d="M460.20,649.24L464.20,653.24L460.20,657.24L456.20,653.24Z" fill="none" stroke="#6a6a6a" stroke-width="0.9"/>
<path d="M46.80,816.18L51.10,823.98L42.50,823.98Z" fill="none" stroke="#000" stroke-width="0.6" stroke-linejoin="miter"/>
<path d="M42.20,823.98H51.40" stroke="#000" stroke-width="1.0"/>
<path d="M67.47,814.70L71.77,822.50L63.17,822.50Z" fill="none" stroke="#000" stroke-width="0.6" stroke-linejoin="miter"/>
<path d="M62.87,822.50H72.07" stroke="#000" stroke-width="1.0"/>
<path d="M88.14,810.88L92.44,818.68L83.84,818.68Z" fill="none" stroke="#000" stroke-width="0.6" stroke-linejoin="miter"/>
<path d="M83.54,818.68H92.74" stroke="#000" stroke-width="1.0"/>
<path d="M108.81,813.42L113.11,821.22L104.51,821.22Z" fill="none" stroke="#000" stroke-width="0.6" stroke-linejoin="miter"/>
<path d="M104.21,821.22H113.41" stroke="#000" stroke-width="1.0"/>
<path d="M129.48,817.03L133.78,824.83L125.18,824.83Z" fill="none" stroke="#000" stroke-width="0.6" stroke-linejoin="miter"/>
<path d="M124.88,824.83H134.08" stroke="#000" stroke-width="1.0"/>
<path d="M150.15,822.33L154.45,830.13L145.85,830.13Z" fill="none" stroke="#000" stroke-width="0.6" stroke-linejoin="miter"/>
<path d="M145.55,830.13H154.75" stroke="#000" stroke-width="1.0"/>
<path d="M170.82,820.21L175.12,828.01L166.52,828.01Z" fill="none" stroke="#000" stroke-width="0.6" stroke-linejoin="miter"/>
<path d="M166.22,828.01H175.42" stroke="#000" stroke-width="1.0"/>
<path d="M191.49,817.66L195.79,825.46L187.19,825.46Z" fill="none" stroke="#000" stroke-width="0.6" stroke-linejoin="miter"/>
<path d="M186.89,825.46H196.09" stroke="#000" stroke-width="1.0"/>
<path d="M212.16,815.97L216.46,823.77L207.86,823.77Z" fill="none" stroke="#000" stroke-width="0.6" stroke-linejoin="miter"/>
<path d="M207.56,823.77H216.76" stroke="#000" stroke-width="1.0"/>
<path d="M232.83,813.42L237.13,821.22L228.53,821.22Z" fill="none" stroke="#000" stroke-width="0.6" stroke-linejoin="miter"/>
<path d="M228.23,821.22H237.43" stroke="#000" stroke-width="1.0"/>
<path d="M253.50,811.30L257.80,819.10L249.20,819.10Z" fill="none" stroke="#000" stroke-width="0.6" stroke-linejoin="miter"/>
<path d="M248.90,819.10H258.10" stroke="#000" stroke-width="1.0"/>
<path d="M274.17,812.58L278.47,820.38L269.87,820.38Z" fill="none" stroke="#000" stroke-width="0.6" stroke-linejoin="miter"/>
<path d="M269.57,820.38H278.77" stroke="#000" stroke-width="1.0"/>
<path d="M294.84,813.42L299.14,821.22L290.54,821.22Z" fill="none" stroke="#000" stroke-width="0.6" stroke-linejoin="miter"/>
<path d="M290.24,821.22H299.44" stroke="#000" stroke-width="1.0"/>
<path d="M315.51,813.85L319.81,821.65L311.21,821.65Z" fill="none" stroke="#000" stroke-width="0.6" stroke-linejoin="miter"/>
<path d="M310.91,821.65H320.11" stroke="#000" stroke-width="1.0"/>
<path d="M336.18,813.85L340.48,821.65L331.88,821.65Z" fill="none" stroke="#000" stroke-width="0.6" stroke-linejoin="miter"/>
<path d="M331.58,821.65H340.78" stroke="#000" stroke-width="1.0"/>
<path d="M356.85,814.70L361.15,822.50L352.55,822.50Z" fill="none" stroke="#000" stroke-width="0.6" stroke-linejoin="miter"/>
<path d="M352.25,822.50H361.45" stroke="#000" stroke-width="1.0"/>
<path d="M377.52,815.12L381.82,822.92L373.22,822.92Z" fill="none" stroke="#000" stroke-width="0.6" stroke-linejoin="miter"/>
<path d="M372.92,822.92H382.12" stroke="#000" stroke-width="1.0"/>
<path d="M398.19,815.54L402.49,823.34L393.89,823.34Z" fill="none" stroke="#000" stroke-width="0.6" stroke-linejoin="miter"/>
<path d="M393.59,823.34H402.79" stroke="#000" stroke-width="1.0"/>
<path d="M418.86,816.18L423.16,823.98L414.56,823.98Z" fill="none" stroke="#000" stroke-width="0.6" stroke-linejoin="miter"/>
<path d="M414.26,823.98H423.46" stroke="#000" stroke-width="1.0"/>
<path d="M439.53,816.39L443.83,824.19L435.23,824.19Z" fill="none" stroke="#000" stroke-width="0.6" stroke-linejoin="miter"/>
<path d="M434.93,824.19H444.13" stroke="#000" stroke-width="1.0"/>
<path d="M460.20,816.39L464.50,824.19L455.90,824.19Z" fill="none" stroke="#000" stroke-width="0.6" stroke-linejoin="miter"/>
<path d="M455.60,824.19H464.80" stroke="#000" stroke-width="1.0"/>
<path d="M42.80,814.30L50.80,822.90M50.80,814.30L42.80,822.90" fill="none" stroke="#808080" stroke-width="0.9"/>
<path d="M63.47,803.91L71.47,812.51M71.47,803.91L63.47,812.51" fill="none" stroke="#808080" stroke-width="0.9"/>
<path d="M84.14,807.94L92.14,816.54M92.14,807.94L84.14,816.54" fill="none" stroke="#808080" stroke-width="0.9"/>
<path d="M104.81,817.69L112.81,826.29M112.81,817.69L104.81,826.29" fill="none" stroke="#808080" stroke-width="0.9"/>
<path d="M125.48,822.78L133.48,831.38M133.48,822.78L125.48,831.38" fill="none" stroke="#808080" stroke-width="0.9"/>
<path d="M146.15,827.02L154.15,835.62M154.15,827.02L146.15,835.62" fill="none" stroke="#808080" stroke-width="0.9"/>
<path d="M166.82,826.38L174.82,834.98M174.82,826.38L166.82,834.98" fill="none" stroke="#808080" stroke-width="0.9"/>
<path d="M187.49,825.74L195.49,834.34M195.49,825.74L187.49,834.34" fill="none" stroke="#808080" stroke-width="0.9"/>
<path d="M208.16,825.74L216.16,834.34M216.16,825.74L208.16,834.34" fill="none" stroke="#808080" stroke-width="0.9"/>
<path d="M228.83,827.44L236.83,836.04M236.83,827.44L228.83,836.04" fill="none" stroke="#808080" stroke-width="0.9"/>
<path d="M249.50,828.29L257.50,836.89M257.50,828.29L249.50,836.89" fill="none" stroke="#808080" stroke-width="0.9"/>
<path d="M270.17,828.29L278.17,836.89M278.17,828.29L270.17,836.89" fill="none" stroke="#808080" stroke-width="0.9"/>
<path d="M290.84,827.44L298.84,836.04M298.84,827.44L290.84,836.04" fill="none" stroke="#808080" stroke-width="0.9"/>
<path d="M311.51,827.44L319.51,836.04M319.51,827.44L311.51,836.04" fill="none" stroke="#808080" stroke-width="0.9"/>
<path d="M332.18,826.59L340.18,835.19M340.18,826.59L332.18,835.19" fill="none" stroke="#808080" stroke-width="0.9"/>
<path d="M352.85,826.59L360.85,835.19M360.85,826.59L352.85,835.19" fill="none" stroke="#808080" stroke-width="0.9"/>
<path d="M373.52,826.59L381.52,835.19M381.52,826.59L373.52,835.19" fill="none" stroke="#808080" stroke-width="0.9"/>
<path d="M394.19,827.44L402.19,836.04M402.19,827.44L394.19,836.04" fill="none" stroke="#808080" stroke-width="0.9"/>
<path d="M414.86,827.44L422.86,836.04M422.86,827.44L414.86,836.04" fill="none" stroke="#808080" stroke-width="0.9"/>
<path d="M435.53,827.65L443.53,836.25M443.53,827.65L435.53,836.25" fill="none" stroke="#808080" stroke-width="0.9"/>
<path d="M456.20,827.65L464.20,836.25M464.20,827.65L456.20,836.25" fill="none" stroke="#808080" stroke-width="0.9"/>
<text transform="matrix(0.17978,0,0,0.19526,0.929,10.355)" font-weight="bold" fill="#000" stroke-width="2.5">a</text>
<text transform="matrix(0.20238,0,0,0.19592,-0.086,322.354)" font-weight="bold" fill="#000" stroke-width="2.5">b</text>
<text transform="matrix(0.20389,0,0,0.18796,0.805,616.262)" font-weight="bold" fill="#000" stroke-width="2.5">c</text>
<text transform="translate(10.822,161.106) scale(0.12751,0.14266) rotate(-90)" font-weight="bold" stroke-width="2.5">Percent</text>
<text transform="translate(10.822,463.770) scale(0.12751,0.12232) rotate(-90)" font-weight="bold" stroke-width="2.5">Percent</text>
<text transform="translate(9.522,759.135) scale(0.12751,0.13207) rotate(-90)" font-weight="bold" stroke-width="2.5">Percent</text>
<text transform="matrix(0.11260,0,0,0.12607,246.939,285.124)" font-weight="bold" fill="#000" stroke-width="2.5">Wave</text>
<text transform="matrix(0.12795,0,0,0.12178,237.337,576.028)" font-weight="bold" fill="#000" stroke-width="2.5">Wave</text>
<text transform="matrix(0.13425,0,0,0.13037,236.737,873.020)" font-weight="bold" fill="#000" stroke-width="2.5">Wave</text>
<line x1="295.40" y1="28.00" x2="313.60" y2="28.00" stroke="#000" stroke-width="1.0"/>
<path d="M304.40,25.20L307.50,28.30L304.40,31.40L301.30,28.30Z" fill="none" stroke="#6a6a6a" stroke-width="0.9"/>
<text transform="matrix(0.12115,0,0,0.10759,315.363,30.700)" stroke-width="3.5">black</text>
<line x1="346.20" y1="28.00" x2="364.30" y2="28.00" stroke="#000" stroke-width="1.0"/>
<path d="M355.10,24.90L358.70,31.10L351.50,31.10Z" fill="none" stroke="#000" stroke-width="0.7" stroke-linejoin="miter"/>
<path d="M351.20,31.10H359.00" stroke="#000" stroke-width="1.0"/>
<text transform="matrix(0.11028,0,0,0.10759,366.146,30.700)" stroke-width="3.5">Hispanic</text>
<line x1="412.10" y1="28.00" x2="429.80" y2="28.00" stroke="#000" stroke-width="1.0"/>
<path d="M417.50,24.90L423.50,31.50M423.50,24.90L417.50,31.50" fill="none" stroke="#808080" stroke-width="0.9"/>
<text transform="matrix(0.10083,0,0,0.10759,433.560,30.700)" stroke-width="3.5">white</text>
<line x1="295.20" y1="341.50" x2="313.30" y2="341.50" stroke="#000" stroke-width="1.0"/>
<path d="M304.50,338.70L307.60,341.80L304.50,344.90L301.40,341.80Z" fill="none" stroke="#6a6a6a" stroke-width="0.9"/>
<text transform="matrix(0.12115,0,0,0.10345,315.363,344.300)" stroke-width="3.5">black</text>
<line x1="346.10" y1="341.50" x2="364.70" y2="341.50" stroke="#000" stroke-width="1.0"/>
<path d="M355.10,338.40L358.70,344.60L351.50,344.60Z" fill="none" stroke="#000" stroke-width="0.7" stroke-linejoin="miter"/>
<path d="M351.20,344.60H359.00" stroke="#000" stroke-width="1.0"/>
<text transform="matrix(0.10867,0,0,0.10345,366.959,344.300)" stroke-width="3.5">Hispanic</text>
<line x1="412.10" y1="341.50" x2="429.70" y2="341.50" stroke="#000" stroke-width="1.0"/>
<path d="M417.90,338.40L423.90,345.00M423.90,338.40L417.90,345.00" fill="none" stroke="#808080" stroke-width="0.9"/>
<text transform="matrix(0.10127,0,0,0.10345,433.260,344.300)" stroke-width="3.5">white</text>
<line x1="286.40" y1="633.00" x2="311.60" y2="633.00" stroke="#000" stroke-width="1.0"/>
<path d="M298.40,630.20L301.50,633.30L298.40,636.40L295.30,633.30Z" fill="none" stroke="#6a6a6a" stroke-width="0.9"/>
<text transform="matrix(0.11454,0,0,0.10897,313.506,635.800)" stroke-width="3.5">black</text>
<line x1="344.20" y1="633.50" x2="367.90" y2="633.50" stroke="#000" stroke-width="1.0"/>
<path d="M356.05,630.40L359.65,636.60L352.45,636.60Z" fill="none" stroke="#000" stroke-width="0.7" stroke-linejoin="miter"/>
<path d="M352.15,636.60H359.95" stroke="#000" stroke-width="1.0"/>
<text transform="matrix(0.11388,0,0,0.10897,370.864,635.800)" stroke-width="3.5">hispanic</text>
<line x1="416.00" y1="633.00" x2="440.90" y2="633.00" stroke="#000" stroke-width="1.0"/>
<path d="M425.40,629.90L431.40,636.50M431.40,629.90L425.40,636.50" fill="none" stroke="#808080" stroke-width="0.9"/>
<text transform="matrix(0.10738,0,0,0.10897,444.361,635.800)" stroke-width="3.5">white</text>
</svg></body></html>
